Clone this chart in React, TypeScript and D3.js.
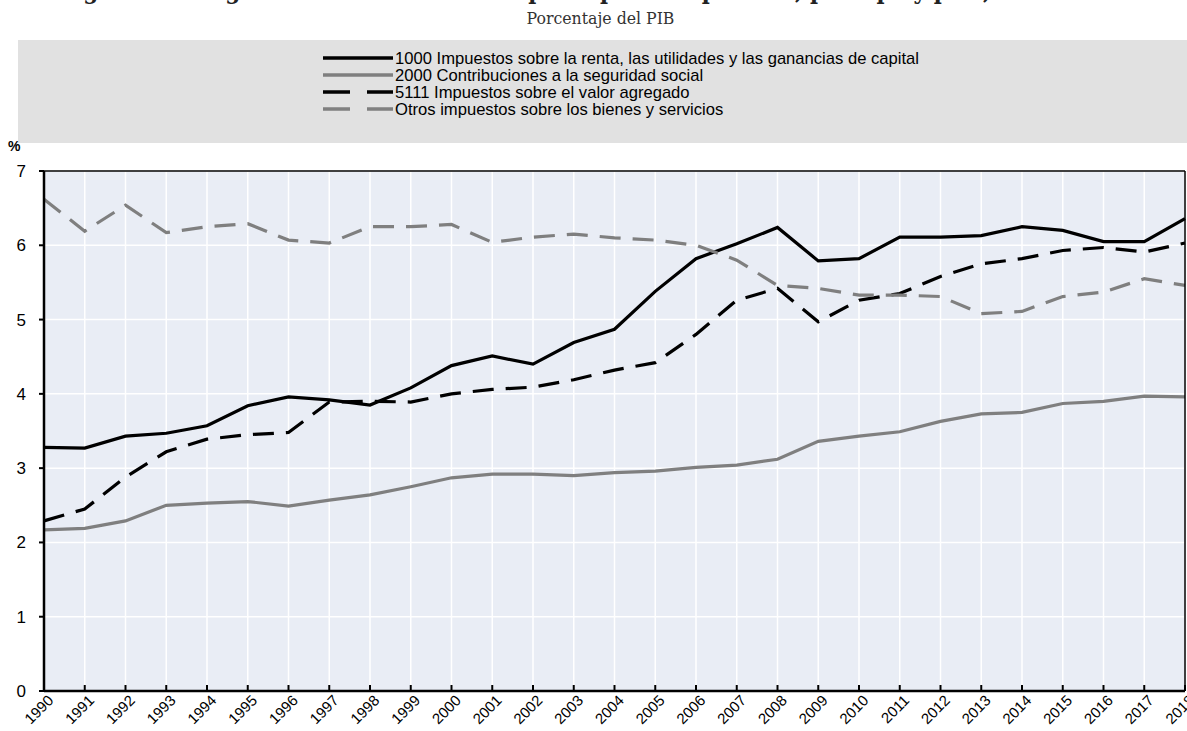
import React from 'react';
import * as d3 from 'd3';

const years = d3.range(1990, 2019);

// 1000 Impuestos sobre la renta, las utilidades y las ganancias de capital
const incomeTax = [3.28, 3.27, 3.43, 3.47, 3.57, 3.84, 3.96, 3.92, 3.85, 4.08, 4.38, 4.51, 4.40, 4.69, 4.87, 5.38, 5.82, 6.02, 6.24, 5.79, 5.82, 6.11, 6.11, 6.13, 6.25, 6.20, 6.05, 6.05, 6.36];
// 2000 Contribuciones a la seguridad social
const socialSec = [2.17, 2.19, 2.29, 2.50, 2.53, 2.55, 2.49, 2.57, 2.64, 2.75, 2.87, 2.92, 2.92, 2.90, 2.94, 2.96, 3.01, 3.04, 3.12, 3.36, 3.43, 3.49, 3.63, 3.73, 3.75, 3.87, 3.90, 3.97, 3.96];
// 5111 Impuestos sobre el valor agregado
const vat = [2.29, 2.45, 2.88, 3.22, 3.39, 3.45, 3.48, 3.89, 3.90, 3.89, 4.00, 4.06, 4.09, 4.19, 4.32, 4.42, 4.80, 5.26, 5.42, 4.97, 5.26, 5.35, 5.58, 5.75, 5.82, 5.93, 5.97, 5.91, 6.03];
// Otros impuestos sobre los bienes y servicios
const otherGoods = [6.62, 6.19, 6.54, 6.17, 6.25, 6.29, 6.07, 6.03, 6.25, 6.25, 6.28, 6.04, 6.11, 6.15, 6.10, 6.07, 6.00, 5.80, 5.46, 5.42, 5.33, 5.33, 5.31, 5.08, 5.11, 5.31, 5.37, 5.55, 5.46];

const yTicks = [0, 1, 2, 3, 4, 5, 6, 7];

const series = [
  { label: '1000 Impuestos sobre la renta, las utilidades y las ganancias de capital', values: incomeTax, color: '#000000', dash: null },
  { label: '2000 Contribuciones a la seguridad social', values: socialSec, color: '#7f7f7f', dash: null },
  { label: '5111 Impuestos sobre el valor agregado', values: vat, color: '#000000', dash: '21,12' },
  { label: 'Otros impuestos sobre los bienes y servicios', values: otherGoods, color: '#7f7f7f', dash: '21,12' },
];

const W = 1187;
const H = 731;
const plot = { left: 44, right: 1185, top: 171, bottom: 691 };

const App: React.FC = () => {
  const x = d3.scaleLinear().domain([1990, 2018]).range([plot.left, plot.right]);
  const y = d3.scaleLinear().domain([0, 7]).range([plot.bottom, plot.top]);

  const line = d3.line<number>()
    .x((_, i) => x(years[i]))
    .y(d => y(d));

  const sans = 'Liberation Sans, Arial, sans-serif';
  const narrow = 'Liberation Sans Narrow, Arial Narrow, Liberation Sans, Arial, sans-serif';
  const serif = 'DejaVu Serif Condensed, DejaVu Serif, serif';

  return (
    <svg width={W} height={H} style={{ position: 'absolute', left: 0, top: 0, background: '#fff' }}>
      {/* title, mostly above the visible area */}
      <text x={W / 2} y={-1} textAnchor="middle" fontFamily={serif} fontWeight="bold" fontSize={24} fill="#222">
        Figura 1.1. Ingresos tributarios de los principales impuestos, por tipo y país, 1990-2018
      </text>
      <text x={W / 2 + 7} y={24} textAnchor="middle" fontFamily={serif} fontSize={17.5} fill="#333">
        Porcentaje del PIB
      </text>

      {/* legend */}
      <rect x={18} y={40} width={W - 18} height={103} fill="#e1e1e1" />
      {series.map((s, i) => {
        const ly = 58 + i * 17;
        return (
          <g key={s.label}>
            <line x1={323} x2={393} y1={ly} y2={ly} stroke={s.color} strokeWidth={3.5}
              strokeDasharray={s.dash ? '27,17' : undefined} />
            <text x={395} y={ly + 5.5} fontFamily={narrow} fontSize={16.6} fill="#000">{s.label}</text>
          </g>
        );
      })}

      {/* plot background and grid */}
      <rect x={plot.left} y={plot.top} width={plot.right - plot.left} height={plot.bottom - plot.top} fill="#e9edf5" />
      {years.slice(1).map(yr => (
        <line key={yr} x1={x(yr)} x2={x(yr)} y1={plot.top} y2={plot.bottom} stroke="#fff" strokeWidth={1.5} />
      ))}
      {yTicks.slice(1).map(t => (
        <line key={t} x1={plot.left} x2={plot.right} y1={y(t)} y2={y(t)} stroke="#fff" strokeWidth={1.5} />
      ))}

      {/* series */}
      {series.map(s => (
        <path key={s.label} d={line(s.values) || ''} fill="none" stroke={s.color} strokeWidth={3.2}
          strokeDasharray={s.dash || undefined} strokeLinejoin="miter" />
      ))}

      {/* frame */}
      <line x1={plot.left} x2={plot.right} y1={plot.top} y2={plot.top} stroke="#000" strokeWidth={1.5} />
      <line x1={plot.right} x2={plot.right} y1={plot.top} y2={plot.bottom} stroke="#000" strokeWidth={1.5} />
      <line x1={plot.left} x2={plot.left} y1={plot.top} y2={plot.bottom + 1} stroke="#000" strokeWidth={2.5} />
      <line x1={plot.left} x2={plot.right} y1={plot.bottom} y2={plot.bottom} stroke="#000" strokeWidth={2.5} />

      {/* y axis */}
      {yTicks.map(t => (
        <g key={t}>
          <line x1={plot.left - 5} x2={plot.left} y1={y(t)} y2={y(t)} stroke="#000" strokeWidth={2} />
          <text x={26} y={y(t) + 6} textAnchor="end" fontFamily={sans} fontSize={17} fill="#000">{t}</text>
        </g>
      ))}
      <text x={8} y={151} fontFamily={sans} fontSize={14} fontWeight="bold" fill="#000">%</text>

      {/* x axis */}
      {years.map(yr => (
        <g key={yr}>
          <line x1={x(yr)} x2={x(yr)} y1={plot.bottom} y2={plot.bottom - 6} stroke="#000" strokeWidth={2} />
          <text transform={`translate(${x(yr) + 3},${plot.bottom + 3}) rotate(-45)`} textAnchor="end"
            dy="0.7em" fontFamily={sans} fontSize={15} fill="#000">{yr}</text>
        </g>
      ))}
    </svg>
  );
};

export default App;
